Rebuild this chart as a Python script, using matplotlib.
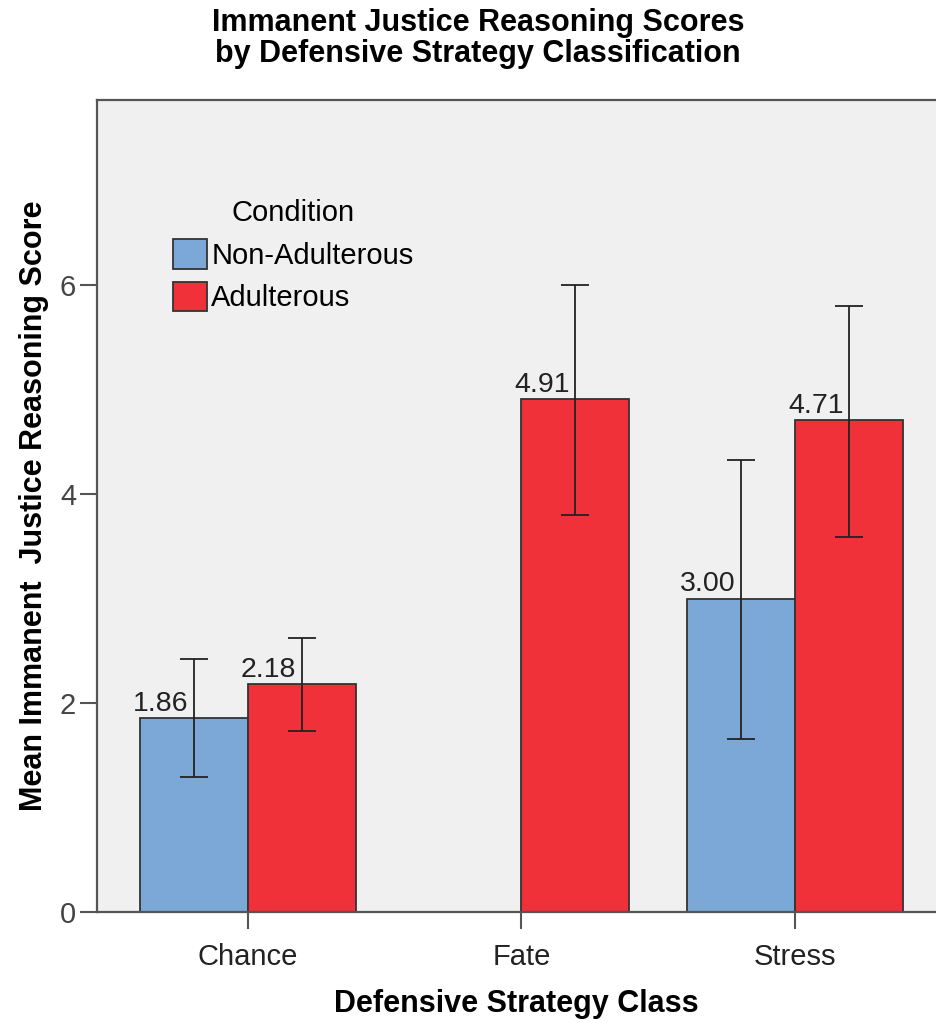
import numpy as np
import matplotlib
matplotlib.use("Agg")
import matplotlib.pyplot as plt

plt.rcParams['font.family'] = ['Liberation Sans', 'DejaVu Sans']

# data
classes = ['Chance', 'Fate', 'Stress']
conditions = ['Non-Adulterous', 'Adulterous']
non_adult = [1.86, np.nan, 3.00]
non_adult_lo = [1.29, np.nan, 1.66]
non_adult_hi = [2.42, np.nan, 4.33]
adult = [2.18, 4.91, 4.71]
adult_lo = [1.73, 3.80, 3.59]
adult_hi = [2.62, 6.00, 5.80]

blue = '#7BA8D6'
red = '#F0313A'
edge = '#333333'

fig = plt.figure(figsize=(9.36, 10.23), dpi=100)
ax = fig.add_axes([0.1036, 0.1085, 0.8964, 0.7937])
ax.set_facecolor('#F0F0F0')

x = np.arange(len(classes))
w = 0.395

series = [
    (non_adult, non_adult_lo, non_adult_hi, blue, -w / 2),
    (adult, adult_lo, adult_hi, red, w / 2),
]
for (vals, lo, hi, col, off), name in zip(series, conditions):
    vals = np.array(vals)
    ok = ~np.isnan(vals)
    xs = x[ok] + off
    v = vals[ok]
    ax.bar(xs, v, width=w, color=col, edgecolor=edge, linewidth=1.3, label=name, zorder=2)
    err = np.array([v - np.array(lo)[ok], np.array(hi)[ok] - v])
    ax.errorbar(xs, v, yerr=err, fmt='none', ecolor='#222222', elinewidth=1.3,
                capsize=10, capthick=1.3, zorder=3)
    for xi, vi in zip(xs, v):
        ax.text(xi - 0.02, vi + 0.01, f'{vi:.2f}', ha='right', va='bottom',
                fontsize=20.5, color='#222222', zorder=4)

ax.set_xlim(-0.552, 2.516)
ax.set_ylim(0, 7.77)
ax.set_xticks(x)
ax.set_xticklabels(classes, fontsize=21, color='#222222')
ax.set_yticks([0, 2, 4, 6])
ax.set_yticklabels(['0', '2', '4', '6'], fontsize=21, color='#444444')
ax.tick_params(axis='both', length=12, width=1.5, color='#555555')
ax.tick_params(axis='x', pad=10)
ax.tick_params(axis='y', pad=3)

for s in ['left', 'bottom', 'top']:
    ax.spines[s].set_color('#555555')
    ax.spines[s].set_linewidth(1.6)
ax.spines['right'].set_visible(False)

ax.set_xlabel('Defensive Strategy Class', fontsize=22, fontweight='bold', labelpad=13)
ax.set_ylabel('Mean Immanent  Justice Reasoning Score', fontsize=22, fontweight='bold', labelpad=8)

fig.suptitle('Immanent Justice Reasoning Scores\nby Defensive Strategy Classification',
             fontsize=22, fontweight='bold', x=0.511, y=0.992, va='top', linespacing=1.05)

leg = ax.legend(title='Condition', loc='upper left', bbox_to_anchor=(0.0596, 0.91),
                frameon=False, fontsize=21, title_fontsize=21,
                handlelength=1.15, handleheight=1.2, handletextpad=0.15,
                labelspacing=0.4)

fig.savefig('out.png', dpi=100)
